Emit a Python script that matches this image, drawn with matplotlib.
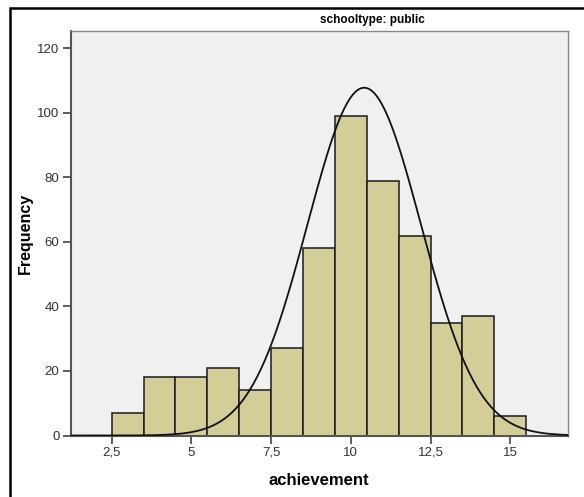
import numpy as np
import matplotlib.pyplot as plt
from matplotlib.patches import Rectangle

# binned achievement scores (bin width 1, starting at 2.5)
bin_edges = [2.5, 3.5, 4.5, 5.5, 6.5, 7.5, 8.5, 9.5, 10.5, 11.5, 12.5, 13.5, 14.5, 15.5]
counts = [7, 18, 18, 21, 14, 27, 58, 99, 79, 62, 35, 37, 6]

# normal curve parameters
curve_mean = 10.42
curve_sd = 1.78

xticks = [2.5, 5, 7.5, 10, 12.5, 15]
xtick_labels = ["2,5", "5", "7,5", "10", "12,5", "15"]
yticks = [0, 20, 40, 60, 80, 100, 120]

plt.rcParams["font.family"] = ["Liberation Sans", "DejaVu Sans"]

fig = plt.figure(figsize=(5.84, 4.97), dpi=100)
ax = fig.add_axes([0.121, 0.1237, 0.851, 0.814])
ax.set_facecolor("#f0f0f0")

lefts = np.array(bin_edges[:-1])
widths = np.diff(bin_edges)
ax.bar(lefts, counts, width=widths, align="edge", color="#d3ce98",
       edgecolor="#1a1a1a", linewidth=1.1, zorder=2)

n = sum(counts)
xs = np.linspace(1.2, 16.8, 400)
ys = n * 1.0 / (curve_sd * np.sqrt(2 * np.pi)) * np.exp(-0.5 * ((xs - curve_mean) / curve_sd) ** 2)
ax.plot(xs, ys, color="#111111", linewidth=1.3, zorder=3)

ax.set_xlim(1.215, 16.8)
ax.set_ylim(0, 125.4)
ax.set_xticks(xticks)
ax.set_xticklabels(xtick_labels)
ax.set_yticks(yticks)
ax.tick_params(direction="out", length=6, width=1.2, color="#444444",
               labelsize=9.5, labelcolor="#333333", pad=2)
for side in ["left", "bottom"]:
    ax.spines[side].set_color("#555555")
    ax.spines[side].set_linewidth(1.5)
for side in ["top", "right"]:
    ax.spines[side].set_color("#888888")
    ax.spines[side].set_linewidth(1.0)

ax.set_ylabel("Frequency", fontsize=11.5, fontweight="bold", labelpad=3)
ax.set_xlabel("achievement", fontsize=12, fontweight="bold", labelpad=10)

fig.text(0.637, 0.96, "schooltype: public", ha="center", va="center",
         fontsize=8.5, fontweight="bold")

# outer frame
fig.patches.append(Rectangle((10 / 584, -0.01), 1.0, (497 - 8) / 497 + 0.01,
                             transform=fig.transFigure, fill=False,
                             edgecolor="black", linewidth=1.8))

fig.savefig("out.png", dpi=100)
